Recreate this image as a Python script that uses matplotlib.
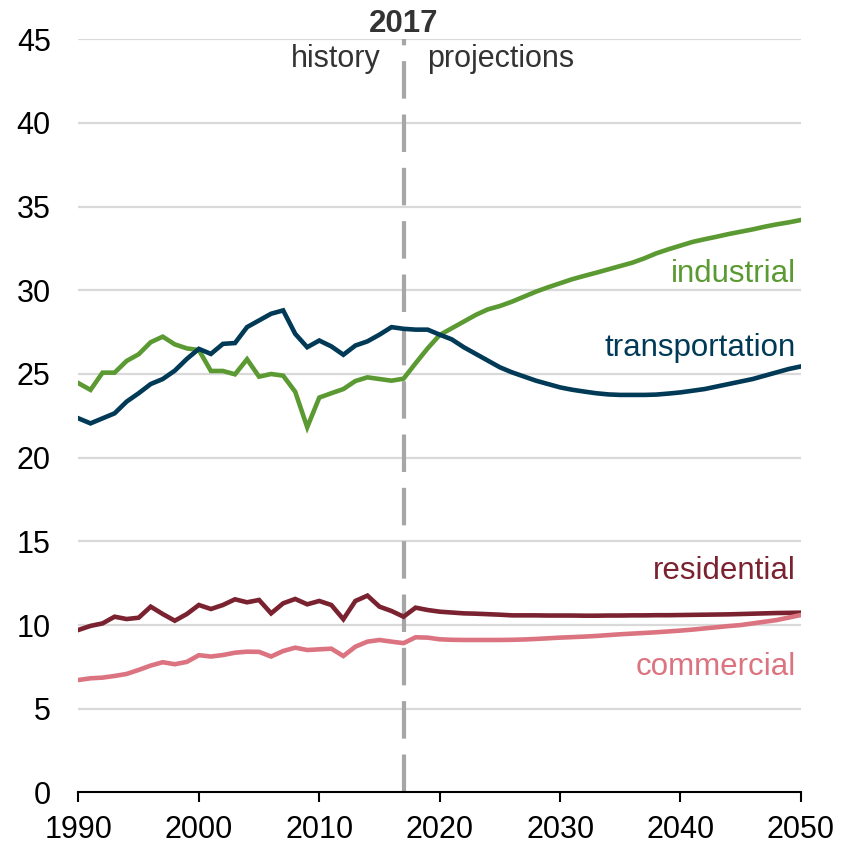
import matplotlib
matplotlib.use("Agg")
import matplotlib.pyplot as plt

years = list(range(1990, 2051))

industrial = [24.45, 24.05, 25.08, 25.08, 25.78, 26.18, 26.9, 27.23, 26.77, 26.53,
              26.43, 25.18, 25.18, 24.98, 25.88, 24.84, 25.0, 24.9, 23.94, 21.82,
              23.59, 23.85, 24.1, 24.58, 24.8, 24.7, 24.6, 24.72, 25.64, 26.53,
              27.33, 27.73, 28.13, 28.53, 28.86, 29.06, 29.32, 29.62, 29.92, 30.18,
              30.42, 30.66, 30.86, 31.05, 31.25, 31.45, 31.65, 31.91, 32.21, 32.45,
              32.67, 32.89, 33.05, 33.2, 33.36, 33.5, 33.64, 33.8, 33.94, 34.06, 34.2]

transportation = [22.35, 22.05, 22.35, 22.65, 23.35, 23.85, 24.4, 24.7, 25.2, 25.9,
                  26.5, 26.2, 26.8, 26.85, 27.8, 28.2, 28.6, 28.8, 27.4, 26.6,
                  27.0, 26.65, 26.15, 26.7, 26.95, 27.35, 27.8, 27.7, 27.65, 27.65,
                  27.35, 27.07, 26.6, 26.2, 25.8, 25.4, 25.1, 24.85, 24.6, 24.4,
                  24.2, 24.06, 23.95, 23.85, 23.78, 23.75, 23.75, 23.75, 23.77, 23.83,
                  23.9, 24.0, 24.1, 24.25, 24.4, 24.55, 24.7, 24.9, 25.1, 25.3, 25.45]

residential = [9.71, 9.95, 10.1, 10.5, 10.36, 10.44, 11.1, 10.66, 10.26, 10.66,
               11.2, 10.96, 11.2, 11.54, 11.36, 11.5, 10.7, 11.3, 11.56, 11.24,
               11.44, 11.2, 10.35, 11.44, 11.76, 11.1, 10.84, 10.5, 11.04, 10.9,
               10.8, 10.75, 10.7, 10.68, 10.65, 10.62, 10.58, 10.58, 10.58, 10.57,
               10.57, 10.57, 10.56, 10.56, 10.57, 10.57, 10.58, 10.58, 10.59, 10.59,
               10.6, 10.61, 10.62, 10.63, 10.64, 10.66, 10.68, 10.7, 10.72, 10.73, 10.74]

commercial = [6.72, 6.82, 6.86, 6.96, 7.08, 7.32, 7.58, 7.78, 7.66, 7.8,
              8.2, 8.12, 8.21, 8.35, 8.41, 8.4, 8.12, 8.45, 8.65, 8.51,
              8.55, 8.59, 8.15, 8.71, 9.01, 9.11, 9.01, 8.92, 9.27, 9.25,
              9.15, 9.12, 9.11, 9.11, 9.11, 9.11, 9.12, 9.14, 9.17, 9.21,
              9.25, 9.28, 9.31, 9.35, 9.4, 9.45, 9.49, 9.53, 9.57, 9.62,
              9.67, 9.73, 9.8, 9.87, 9.94, 10.0, 10.1, 10.2, 10.3, 10.45, 10.6]

series_names = ["industrial", "transportation", "residential", "commercial"]
series_values = [industrial, transportation, residential, commercial]
series_colors = ["#5B9A32", "#003A56", "#7A2230", "#DB7480"]
label_y = [30.51, 26.08, 12.74, 7.02]

x_ticks = [1990, 2000, 2010, 2020, 2030, 2040, 2050]
y_ticks = [0, 5, 10, 15, 20, 25, 30, 35, 40, 45]
divider_year = 2017

plt.rcParams['font.family'] = ['Liberation Sans', 'DejaVu Sans']

fig = plt.figure(figsize=(8.52, 8.49), dpi=100)
ax = fig.add_axes([0.0921, 0.0666, 0.8479, 0.8872])

for v in y_ticks[1:]:
    ax.axhline(v, color="#D9D9D9", lw=1.6, zorder=1)

ax.axvline(divider_year, color="#A6A6A6", lw=3.0, dashes=(9, 3.8), zorder=2)

for name, vals, col, ly in zip(series_names, series_values, series_colors, label_y):
    ax.plot(years, vals, color=col, lw=3.3, zorder=3, solid_joinstyle="miter")
    ax.text(2049.6, ly, name, color=col, fontsize=22.5, ha="right", va="baseline")

ax.set_xlim(1990, 2050)
ax.set_ylim(0, 45)
ax.set_xticks(x_ticks)
ax.set_yticks(y_ticks)
ax.tick_params(axis="x", direction="out", length=7.5, width=1.5, labelsize=22, pad=9, colors="black")
ax.tick_params(axis="y", length=0, labelsize=22, pad=20, colors="black")
for s in ["top", "right", "left"]:
    ax.spines[s].set_visible(False)
ax.spines["bottom"].set_linewidth(1.5)
ax.spines["bottom"].set_zorder(4)

ax.text(divider_year, 45.45, "2017", fontsize=22.5, fontweight="bold", color="#333333",
        ha="center", va="baseline", clip_on=False)
ax.text(2015.06, 43.36, "history", fontsize=22, color="#333333", ha="right", va="baseline")
ax.text(2018.94, 43.36, "projections", fontsize=22, color="#333333", ha="left", va="baseline")

fig.savefig("out.png", dpi=100)
